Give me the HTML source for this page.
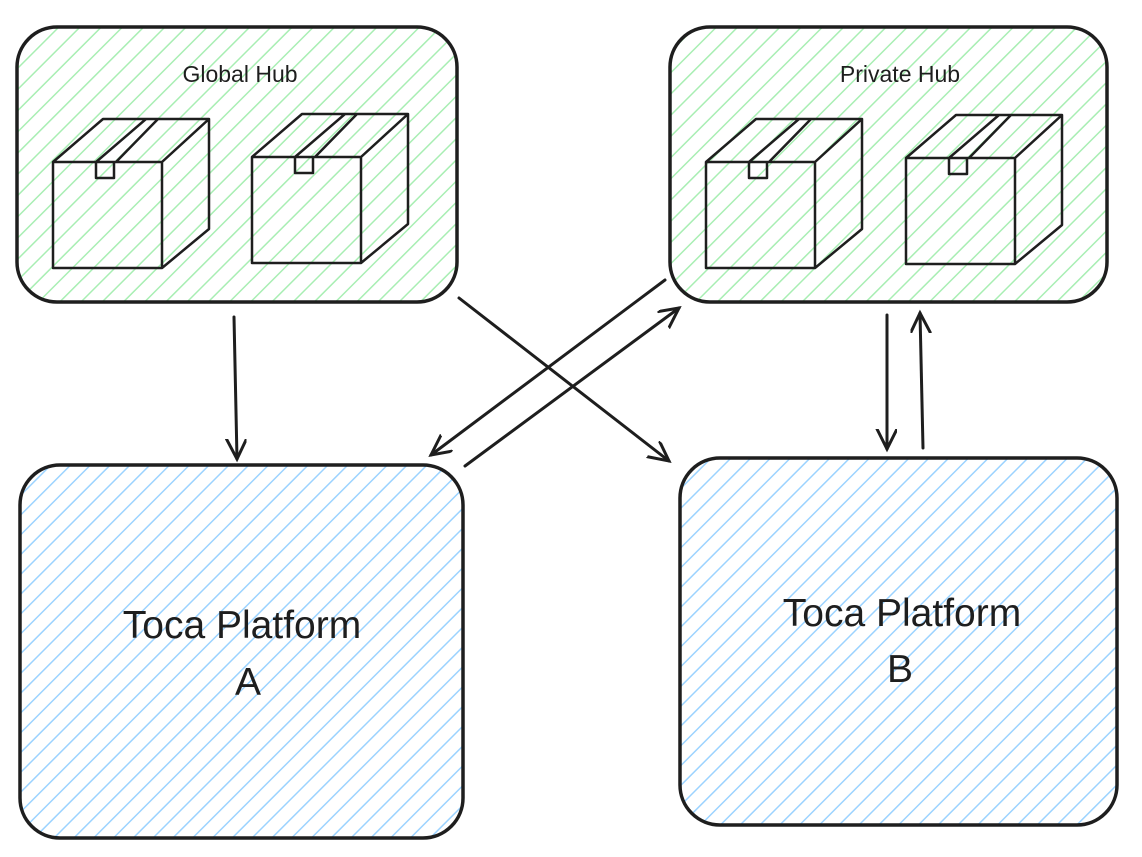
<!DOCTYPE html>
<html><head><style>
html,body{margin:0;padding:0;background:#fff;}
svg{display:block;}
text{font-family:"Liberation Sans",sans-serif;fill:#1e1e1e;}
</style></head><body>
<svg width="1142" height="857" viewBox="0 0 1142 857" xmlns="http://www.w3.org/2000/svg">
<defs>
<pattern id="g" patternUnits="userSpaceOnUse" width="15" height="15" patternTransform="rotate(45)">
<rect width="15" height="15" fill="#fff"/><line x1="0" y1="0" x2="0" y2="15" stroke="#a8eeb3" stroke-width="3"/>
</pattern>
<pattern id="b" patternUnits="userSpaceOnUse" width="14" height="14" patternTransform="rotate(45)">
<rect width="14" height="14" fill="#fff"/><line x1="0" y1="0" x2="0" y2="14" stroke="#9cd3ff" stroke-width="3"/>
</pattern>
<marker id="ah" markerWidth="30" markerHeight="30" refX="20" refY="10" orient="auto" markerUnits="userSpaceOnUse">
<path d="M0,0 L20,10 L0,20" fill="none" stroke="#1e1e1e" stroke-width="3" stroke-linecap="round"/>
</marker>
</defs>
<g stroke="#1e1e1e" stroke-width="3.5" >
<rect x="17" y="27" width="440" height="275" rx="40" fill="url(#g)"/>
<rect x="670" y="27" width="437" height="275" rx="40" fill="url(#g)"/>
<rect x="20" y="465" width="443" height="373" rx="40" fill="url(#b)"/>
<rect x="680" y="458" width="437" height="367" rx="40" fill="url(#b)"/>
</g>
<g fill="none" stroke="#1e1e1e" stroke-width="2.5" stroke-linejoin="round">
<g id="c1">
<path d="M53,162 H162 V268 H53 Z M53,162 L103,119 H209 V229 L162,268 M162,162 L209,119 M96,162 L146,119 M116,162 L158,119 M96,162 V178 H114 V162"/>
</g>
<use href="#c1" transform="translate(199,-5)"/>
<use href="#c1" transform="translate(653,0)"/>
<use href="#c1" transform="translate(853,-4)"/>
</g>
<text x="240" y="82" font-size="23" text-anchor="middle">Global Hub</text>
<text x="900" y="82" font-size="23" text-anchor="middle">Private Hub</text>
<text x="242" y="638" font-size="39" text-anchor="middle">Toca Platform</text>
<text x="248" y="695" font-size="39" text-anchor="middle">A</text>
<text x="902" y="626" font-size="39" text-anchor="middle">Toca Platform</text>
<text x="900" y="682" font-size="39" text-anchor="middle">B</text>
<g stroke="#1e1e1e" stroke-width="3" fill="none" stroke-linecap="round" marker-end="url(#ah)">
<line x1="234" y1="317" x2="237" y2="459"/>
<line x1="459" y1="298" x2="669" y2="461"/>
<line x1="665" y1="280" x2="431" y2="455"/>
<line x1="465" y1="466" x2="679" y2="308"/>
<line x1="887" y1="315" x2="887" y2="449"/>
<line x1="923" y1="448" x2="920" y2="313"/>
</g>
</svg>
</body></html>
